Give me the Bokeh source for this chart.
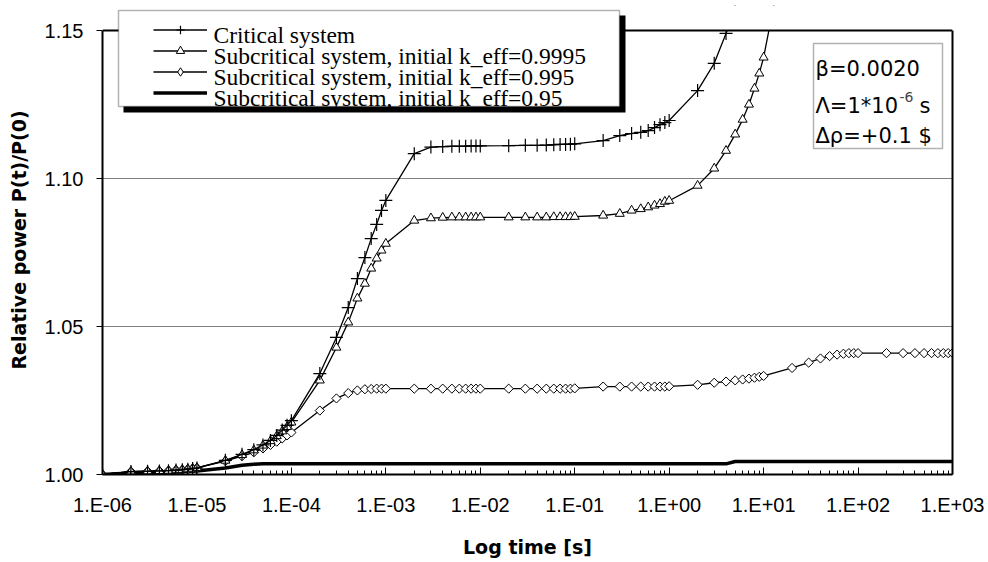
import math
from bokeh.plotting import figure
from bokeh.models import (FixedTicker, CustomJSTickFormatter, NumeralTickFormatter, Legend,
                          LegendItem, Label, BoxAnnotation, Range1d, LinearAxis, Span)
from bokeh.core.properties import value
from bokeh.embed import file_html
from bokeh.resources import INLINE

# time points [s]
times = [
    1e-06, 2e-06, 3e-06, 4e-06, 5e-06, 6e-06, 7e-06, 8e-06, 9e-06,
    1e-05, 2e-05, 3e-05, 4e-05, 5e-05, 6e-05, 7e-05, 8e-05, 9e-05,
    1e-04, 2e-04, 3e-04, 4e-04, 5e-04, 6e-04, 7e-04, 8e-04, 9e-04,
    0.001, 0.002, 0.003, 0.004, 0.005, 0.006, 0.007, 0.008, 0.009,
    0.01, 0.02, 0.03, 0.04, 0.05, 0.06, 0.07, 0.08, 0.09,
    0.1, 0.2, 0.3, 0.4, 0.5, 0.6, 0.7, 0.8, 0.9,
    1, 2, 3, 4, 5, 6, 7, 8, 9,
    10, 20, 30, 40, 50, 60, 70, 80, 90,
    100, 200, 300, 400, 500, 600, 700, 800, 900,
    1000,
]

# relative power P(t)/P(0)
critical = [
    1.0000, 1.0010, 1.0011, 1.0012, 1.0013, 1.0015, 1.0016, 1.0018, 1.0020,
    1.0022, 1.0048, 1.0068, 1.0084, 1.0100, 1.0115, 1.0132, 1.0150, 1.0166,
    1.0182, 1.0341, 1.0463, 1.0564, 1.0662, 1.0733, 1.0797, 1.0845, 1.0892,
    1.0926, 1.1084, 1.1106, 1.1108, 1.1109, 1.1109, 1.1109, 1.1110, 1.1110,
    1.1110, 1.1111, 1.1112, 1.1112, 1.1113, 1.1114, 1.1115, 1.1115, 1.1116,
    1.1117, 1.1128, 1.1145, 1.1152, 1.1156, 1.1162, 1.1172, 1.1182, 1.1189,
    1.1196, 1.1297, 1.1389, 1.1490, 1.1570,
]

sub_09995 = [
    1.0000, 1.0010, 1.0011, 1.0012, 1.0013, 1.0015, 1.0016, 1.0018, 1.0020,
    1.0022, 1.0047, 1.0066, 1.0082, 1.0098, 1.0113, 1.0130, 1.0146, 1.0161,
    1.0176, 1.0318, 1.0429, 1.0514, 1.0595, 1.0645, 1.0696, 1.0730, 1.0757,
    1.0780, 1.0858, 1.0866, 1.0868, 1.0869, 1.0869, 1.0869, 1.0869, 1.0869,
    1.0869, 1.0869, 1.0869, 1.0869, 1.0869, 1.0870, 1.0870, 1.0870, 1.0870,
    1.0871, 1.0875, 1.0881, 1.0892, 1.0897, 1.0903, 1.0909, 1.0914, 1.0922,
    1.0925, 1.0976, 1.1034, 1.1094, 1.1149, 1.1199, 1.1250, 1.1304, 1.1355,
    1.1409, 1.1900,
]

sub_0995 = [
    1.0000, 1.0010, 1.0011, 1.0012, 1.0013, 1.0015, 1.0016, 1.0018, 1.0020,
    1.0022, 1.0045, 1.0062, 1.0075, 1.0088, 1.0100, 1.0111, 1.0122, 1.0132,
    1.0142, 1.0216, 1.0257, 1.0275, 1.0284, 1.0288, 1.0289, 1.0290, 1.0290,
    1.0290, 1.0290, 1.0290, 1.0290, 1.0290, 1.0290, 1.0290, 1.0290, 1.0290,
    1.0290, 1.0290, 1.0290, 1.0290, 1.0290, 1.0290, 1.0290, 1.0290, 1.0290,
    1.0291, 1.0297, 1.0297, 1.0297, 1.0297, 1.0297, 1.0297, 1.0297, 1.0297,
    1.0298, 1.0303, 1.0310, 1.0314, 1.0318, 1.0321, 1.0324, 1.0327, 1.0330,
    1.0333, 1.0360, 1.0378, 1.0392, 1.0400, 1.0405, 1.0408, 1.0410, 1.0410,
    1.0410, 1.0410, 1.0410, 1.0410, 1.0410, 1.0410, 1.0410, 1.0410, 1.0410,
    1.0410,
]

sub_095 = [
    1.0000, 1.0005, 1.0006, 1.0007, 1.0008, 1.0008, 1.0009, 1.0010, 1.0011,
    1.0012, 1.0022, 1.0031, 1.0035, 1.0036, 1.0036, 1.0036, 1.0036, 1.0036,
    1.0036, 1.0036, 1.0036, 1.0036, 1.0036, 1.0036, 1.0036, 1.0036, 1.0036,
    1.0036, 1.0036, 1.0036, 1.0036, 1.0036, 1.0036, 1.0036, 1.0036, 1.0036,
    1.0036, 1.0036, 1.0036, 1.0036, 1.0036, 1.0036, 1.0036, 1.0036, 1.0036,
    1.0036, 1.0036, 1.0036, 1.0036, 1.0036, 1.0036, 1.0036, 1.0036, 1.0036,
    1.0036, 1.0036, 1.0036, 1.0036, 1.0044, 1.0044, 1.0044, 1.0044, 1.0044,
    1.0044, 1.0044, 1.0044, 1.0044, 1.0044, 1.0044, 1.0044, 1.0044, 1.0044,
    1.0044, 1.0044, 1.0044, 1.0044, 1.0044, 1.0044, 1.0044, 1.0044, 1.0044,
    1.0044,
]

legend_labels = [
    "Critical system",
    "Subcritical system, initial k_eff=0.9995",
    "Subcritical system, initial k_eff=0.995",
    "Subcritical system, initial k_eff=0.95",
]

y_ticks = [1.00, 1.05, 1.10, 1.15]
decades = [1e-06, 1e-05, 1e-04, 1e-03, 1e-02, 1e-01, 1e+00, 1e+01, 1e+02, 1e+03]
Y_MIN, Y_MAX = 1.00, 1.15

# canvas / frame geometry (px); the frame reaches a little above the 1.15 line
# so that the legend box can sit over the top border
W, H = 988, 562
FL, FR, FT, FB = 102, 952, 5, 474
Y_TOP_PX = 30
y_end = Y_MIN + (Y_MAX - Y_MIN) * (FB - FT) / (FB - Y_TOP_PX)

p = figure(width=W, height=H, x_axis_type="log",
           x_range=Range1d(1e-06, 1e+03), y_range=Range1d(Y_MIN, y_end),
           output_backend="svg", toolbar_location=None,
           min_border_left=FL, min_border_right=W - FR,
           min_border_top=FT, min_border_bottom=H - FB)
p.background_fill_color = "white"
p.border_fill_color = "white"
p.outline_line_color = None

# x axis: decades with 2..9 minor ticks, labels like 1.E-06
minor = [m * d for d in decades[:-1] for m in range(2, 10)]
p.xaxis.ticker = FixedTicker(ticks=decades, minor_ticks=minor)
p.xaxis.formatter = CustomJSTickFormatter(code="""
    const e = Math.round(Math.log10(tick));
    const a = Math.abs(e);
    return "1.E" + (e < 0 ? "-" : "+") + (a < 10 ? "0" : "") + a;
""")
p.xaxis.major_tick_in = 7
p.xaxis.major_tick_out = 0
p.xaxis.minor_tick_in = 4
p.xaxis.minor_tick_out = 0
p.xaxis.major_label_standoff = 19
p.xaxis.axis_label = "Log time [s]"
p.xaxis.axis_label_standoff = 17

p.yaxis.ticker = FixedTicker(ticks=y_ticks)
p.yaxis.formatter = NumeralTickFormatter(format="0.00")
p.yaxis.bounds = (Y_MIN, Y_MAX)
p.yaxis.major_tick_in = 0
p.yaxis.major_tick_out = 6
p.yaxis.minor_tick_line_color = None
p.yaxis.major_label_standoff = 13
p.yaxis.axis_label = "Relative power P(t)/P(0)"
p.yaxis.axis_label_standoff = 12

for ax in (p.xaxis, p.yaxis):
    ax.axis_line_color = "black"
    ax.axis_line_width = 2
    ax.major_tick_line_color = "black"
    ax.major_tick_line_width = 1
    ax.minor_tick_line_color = "black"
    ax.major_label_text_font = "Liberation Sans"
    ax.major_label_text_font_size = "20px"
    ax.major_label_text_color = "black"
    ax.axis_label_text_font = "DejaVu Sans"
    ax.axis_label_text_font_style = "bold"
    ax.axis_label_text_font_size = "19px"
    ax.axis_label_text_color = "black"
p.yaxis.minor_tick_line_color = None

# right border of the plot area
right_axis = LinearAxis(bounds=(Y_MIN, Y_MAX), ticker=FixedTicker(ticks=[]),
                        axis_line_color="black", axis_line_width=2,
                        major_tick_line_color=None, minor_tick_line_color=None,
                        major_label_text_font_size="0px")
p.add_layout(right_axis, "right")

p.xgrid.visible = False
p.ygrid.ticker = FixedTicker(ticks=[1.05, 1.10])
p.ygrid.grid_line_color = "#808080"
p.ygrid.grid_line_width = 1

# curves
n_c, n_a, n_b, n_d = len(critical), len(sub_09995), len(sub_0995), len(sub_095)
l95 = p.line(times[:n_d], sub_095, line_color="black", line_width=3.5)
l995 = p.line(times[:n_b], sub_0995, line_color="black", line_width=1.3)
# narrow rhombus drawn first (it sits inside the tilted squares and is what
# the legend shows for this curve)
m995_key = p.scatter(times[:n_b], sub_0995, marker="diamond", size=7,
                     fill_color="white", line_color="black", line_width=1)
m995 = p.scatter(times[:n_b], sub_0995, marker="square", angle=math.pi / 4, size=6.5,
                 fill_color="white", line_color="black", line_width=1)
l9995 = p.line(times[:n_a], sub_09995, line_color="black", line_width=1.3)
m9995 = p.scatter(times[:n_a], sub_09995, marker="triangle", size=9,
                  fill_color="white", line_color="black", line_width=1)
lc = p.line(times[:n_c], critical, line_color="black", line_width=1.3)
mc = p.scatter(times[:n_c], critical, marker="cross", size=13,
               line_color="black", line_width=1.2)

# curves end at the top border: blank the strip above 1.15, then draw the border
p.add_layout(BoxAnnotation(left=1e-06, right=1e+03, bottom=Y_MAX, top=y_end,
                           fill_color="white", fill_alpha=1, line_color=None))
p.add_layout(Span(location=Y_MAX, dimension="width", line_color="black", line_width=2))


# frame-relative px helpers (y up from the frame bottom)
def sx(px):
    return px - FL


def sy(py):
    return FB - py


def screen_box(l, r, t, b, **kw):
    return BoxAnnotation(left=sx(l), right=sx(r), top=sy(t), bottom=sy(b),
                         left_units="screen", right_units="screen",
                         top_units="screen", bottom_units="screen", **kw)


# legend frame with drop shadow
p.add_layout(screen_box(123, 625, 15, 112, fill_color="black", fill_alpha=1, line_color=None))
p.add_layout(screen_box(118, 619, 10, 106, fill_color="white", fill_alpha=1,
                        line_color="black", line_width=1.5))

legend = Legend(items=[
    LegendItem(label=value(""), renderers=[lc, mc]),
    LegendItem(label=value(""), renderers=[l9995, m9995]),
    LegendItem(label=value(""), renderers=[l995, m995_key]),
    LegendItem(label=value(""), renderers=[l95]),
], location=(sx(153), sy(103)), padding=0, spacing=0, margin=0,
    glyph_width=54, glyph_height=21, label_height=21, label_width=0,
    label_standoff=0, label_text_font_size="10px",
    border_line_color=None, background_fill_alpha=0)
p.add_layout(legend, "center")

for text, base in zip(legend_labels, [34.5, 55.5, 76, 97]):
    p.add_layout(Label(x=sx(213), y=sy(base), x_units="screen", y_units="screen",
                       text=text, text_font="Liberation Serif", text_font_size="23.5px",
                       text_baseline="alphabetic", text_align="left", text_color="black"))

# parameter box
p.add_layout(screen_box(813, 942, 43, 148, fill_color="white", fill_alpha=1,
                        line_color="black", line_width=1.5))
param_font = dict(text_font="DejaVu Sans", text_font_size="21px",
                  text_baseline="alphabetic", text_color="black",
                  x_units="screen", y_units="screen")
p.add_layout(Label(x=sx(815), y=sy(68), text="\u03b2=0.0020", **param_font))
p.add_layout(Label(x=sx(815), y=sy(105), text="\u039b=1*10", **param_font))
p.add_layout(Label(x=sx(899), y=sy(96), text="-6", text_font="DejaVu Sans",
                   text_font_size="14px", text_baseline="alphabetic",
                   x_units="screen", y_units="screen"))
p.add_layout(Label(x=sx(919), y=sy(105), text="s", **param_font))
p.add_layout(Label(x=sx(815), y=sy(135), text="\u0394\u03c1=+0.1 $", **param_font))

open("out.html", "w").write(file_html(p, INLINE))
